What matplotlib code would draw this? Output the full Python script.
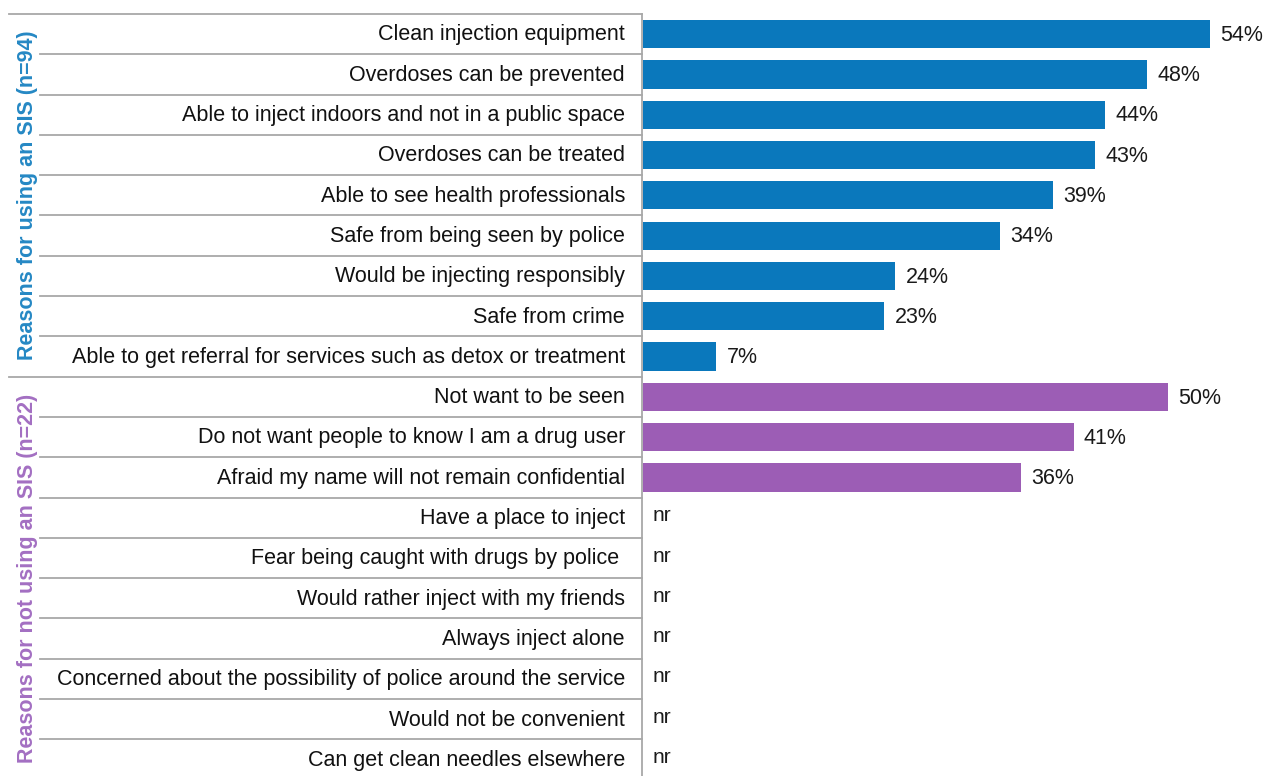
import matplotlib.pyplot as plt
from matplotlib.transforms import blended_transform_factory

# ---- data ----
use_labels = ['Clean injection equipment', 'Overdoses can be prevented',
              'Able to inject indoors and not in a public space', 'Overdoses can be treated',
              'Able to see health professionals', 'Safe from being seen by police',
              'Would be injecting responsibly', 'Safe from crime',
              'Able to get referral for services such as detox or treatment']
use_values = [54, 48, 44, 43, 39, 34, 24, 23, 7]

notuse_labels = ['Not want to be seen', 'Do not want people to know I am a drug user',
                 'Afraid my name will not remain confidential', 'Have a place to inject',
                 'Fear being caught with drugs by police ', 'Would rather inject with my friends',
                 'Always inject alone', 'Concerned about the possibility of police around the service',
                 'Would not be convenient', 'Can get clean needles elsewhere']
notuse_values = [50, 41, 36, None, None, None, None, None, None, None]

group_titles = ['Reasons for using an SIS (n=94)', 'Reasons for not using an SIS (n=22)']

BLUE = '#0a78bc'
PURPLE = '#9c5db5'
BLUE_TXT = '#2588c4'
PURPLE_TXT = '#a36fc2'
GRID = '#a8a8a8'

plt.rcParams['font.family'] = ['Liberation Sans', 'DejaVu Sans']

W, H = 1265, 776
fig = plt.figure(figsize=(W / 100, H / 100), dpi=100)
# axes: x from 643px, rows start at y=14px, row height ~40.3px
row_h = 40.3
n_rows = len(use_labels) + len(notuse_labels)
ax = fig.add_axes([643 / W, 0, 1 - 643 / W, 1 - 14 / H])
ax.set_xlim(0, (W - 643) / 10.5)
ax.set_ylim((H - 14) / row_h - 0.5, -0.5)
ax.axis('off')

labels = use_labels + notuse_labels
values = use_values + notuse_values
colors = [BLUE] * len(use_labels) + [PURPLE] * len(notuse_labels)

for i, (lab, v, c) in enumerate(zip(labels, values, colors)):
    if v is not None:
        ax.barh(i, v, height=0.7, color=c, edgecolor='none')
        ax.text(v + 1.0, i + 0.03, f'{v}%', va='center', ha='left', fontsize=15.5, color='#1a1a1a')
    else:
        ax.text(0.9, i - 0.05, 'nr', va='center', ha='left', fontsize=15, color='#1a1a1a')

tr = blended_transform_factory(fig.transFigure, ax.transData)
for i, lab in enumerate(labels):
    ax.text(625 / W, i + 0.02, lab, transform=tr, ha='right', va='center', fontsize=15.5,
            color='#111111', clip_on=False)

# separators
n_use = len(use_labels)
for k in range(n_rows):
    y = k - 0.5
    x0 = 9 / W if k in (0, n_use) else 40 / W
    ax.plot([x0, 642 / W], [y, y], transform=tr, color=GRID, lw=1.3, clip_on=False)
# vertical axis line
ax.plot([642 / W, 642 / W], [-0.5, n_rows], transform=tr, color=GRID, lw=1.3, clip_on=False)

# group titles
ax.text(28 / W, (n_use - 1) / 2, group_titles[0], transform=tr, rotation=90, ha='center',
        va='center', fontsize=15.5, fontweight='bold', color=BLUE_TXT, clip_on=False)
ax.text(28 / W, n_use + (len(notuse_labels) - 1) / 2, group_titles[1], transform=tr,
        rotation=90, ha='center', va='center', fontsize=15.5, fontweight='bold',
        color=PURPLE_TXT, clip_on=False)

fig.savefig('out.png', dpi=100)
